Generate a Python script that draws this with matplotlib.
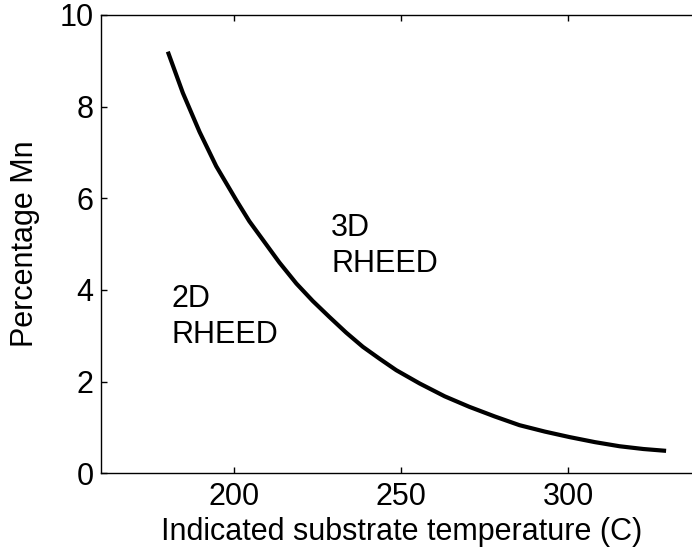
import matplotlib
matplotlib.use('Agg')
import matplotlib.pyplot as plt

plt.rcParams['font.family'] = ['Liberation Sans', 'DejaVu Sans']

# values
temp = [180.1, 184.6, 189.6, 194.6, 200.6, 204.5, 208.6, 213.5, 218.6, 223.5,
        228.5, 233.5, 238.5, 243.5, 248.5, 255.5, 263.0, 270.4, 278.0,
        285.4, 293.0, 300.4, 308.0, 315.4, 322.5, 329.3]
mn_pct = [9.2, 8.3, 7.45, 6.7, 5.96, 5.5, 5.09, 4.6, 4.14, 3.76,
          3.41, 3.07, 2.76, 2.5, 2.25, 1.96, 1.68, 1.45, 1.24,
          1.05, 0.91, 0.79, 0.68, 0.59, 0.53, 0.49]

xticks = [200, 250, 300]
yticks = [0, 2, 4, 6, 8, 10]

fig = plt.figure(figsize=(6.92, 5.59), dpi=100)
ax = fig.add_axes([0.1455, 0.1533, 0.8687, 0.8199])

ax.plot(temp, mn_pct, color='black', lw=3, solid_capstyle='butt')

ax.set_xlim(160, 340)
ax.set_ylim(0, 10)
ax.set_xticks(xticks)
ax.set_yticks(yticks)
ax.tick_params(direction='in', length=4.5, width=1, labelsize=22, top=True, right=True)
ax.tick_params(axis='x', pad=6)
ax.tick_params(axis='y', pad=5)
for s in ax.spines.values():
    s.set_linewidth(1)

ax.set_xlabel('Indicated substrate temperature (C)', fontsize=22, labelpad=4)
ax.set_ylabel('Percentage Mn', fontsize=22, labelpad=14)

ax.text(229, 4.39, '3D\nRHEED', fontsize=22, va='baseline', ha='left', linespacing=1.25)
ax.text(181.2, 2.84, '2D\nRHEED', fontsize=22, va='baseline', ha='left', linespacing=1.25)

fig.savefig('out.png', dpi=100)
